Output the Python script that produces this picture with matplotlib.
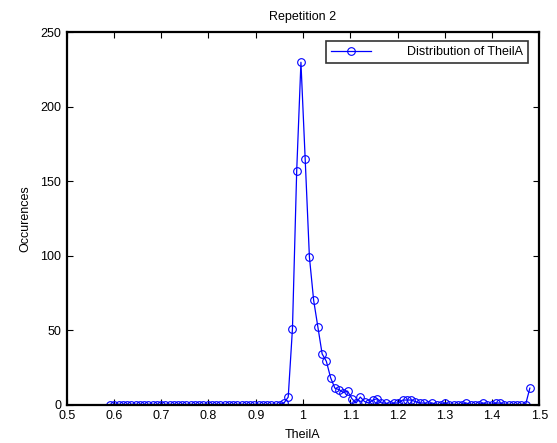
import numpy as np
import matplotlib
matplotlib.use("Agg")
import matplotlib.pyplot as plt
from matplotlib.ticker import FuncFormatter

plt.rcParams['font.family'] = ['Liberation Sans', 'DejaVu Sans']

# Histogram of TheilA: 100 bins, centres from 0.592 to 1.480
bin_first = 0.592
bin_last = 1.480
counts = [0] * 41 + [
    1, 5, 51, 157, 230, 165, 99, 70, 52, 34,
    29, 18, 11, 10, 8, 9, 4, 1, 5, 2,
    1, 3, 4, 1, 1, 0, 1, 1, 3, 3,
    3, 2, 1, 1, 0, 1, 0, 0, 1, 0,
    0, 0, 0, 1, 0, 0, 0, 1, 0, 0,
    1, 1, 0, 0, 0, 0, 0, 0, 11,
]
centres = np.linspace(bin_first, bin_last, len(counts))

title_text = "Repetition 2"
x_label = "TheilA"
y_label = "Occurences"
legend_label = "Distribution of TheilA"
x_ticks = [0.5, 0.6, 0.7, 0.8, 0.9, 1.0, 1.1, 1.2, 1.3, 1.4, 1.5]
y_ticks = [0, 50, 100, 150, 200, 250]

fs = 9

fig = plt.figure(figsize=(5.57, 4.43), dpi=100)
ax = fig.add_axes([66.7 / 557, 1 - 404.5 / 443, 472.6 / 557, 372 / 443])

ax.plot(centres, counts, color=(0, 0, 1), linewidth=0.9, marker='o',
        markersize=5.5, markerfacecolor='none', markeredgecolor=(0, 0, 1),
        markeredgewidth=0.8, label=legend_label)

ax.set_xlim(0.5, 1.5)
ax.set_ylim(0, 250)
ax.set_xticks(x_ticks)
ax.set_yticks(y_ticks)
ax.xaxis.set_major_formatter(FuncFormatter(lambda v, p: f"{v:g}"))

for s in ax.spines.values():
    s.set_linewidth(1.6)
    s.set_color('black')
ax.tick_params(direction='in', length=4, width=0.8, top=True, right=True,
               labelsize=fs, pad=4, colors='black')

ax.set_title(title_text, fontsize=fs, pad=9)
ax.set_xlabel(x_label, fontsize=fs, labelpad=5)
ax.set_ylabel(y_label, fontsize=fs, labelpad=6)

leg = ax.legend(loc='upper right', bbox_to_anchor=(0.976, 0.977), fontsize=fs,
                frameon=True, fancybox=False, borderaxespad=0,
                handlelength=3.2, handletextpad=2.9, borderpad=0.4,
                numpoints=1)
leg.get_frame().set_edgecolor('black')
leg.get_frame().set_linewidth(1.2)

fig.savefig("out.png", dpi=100, facecolor='white')
